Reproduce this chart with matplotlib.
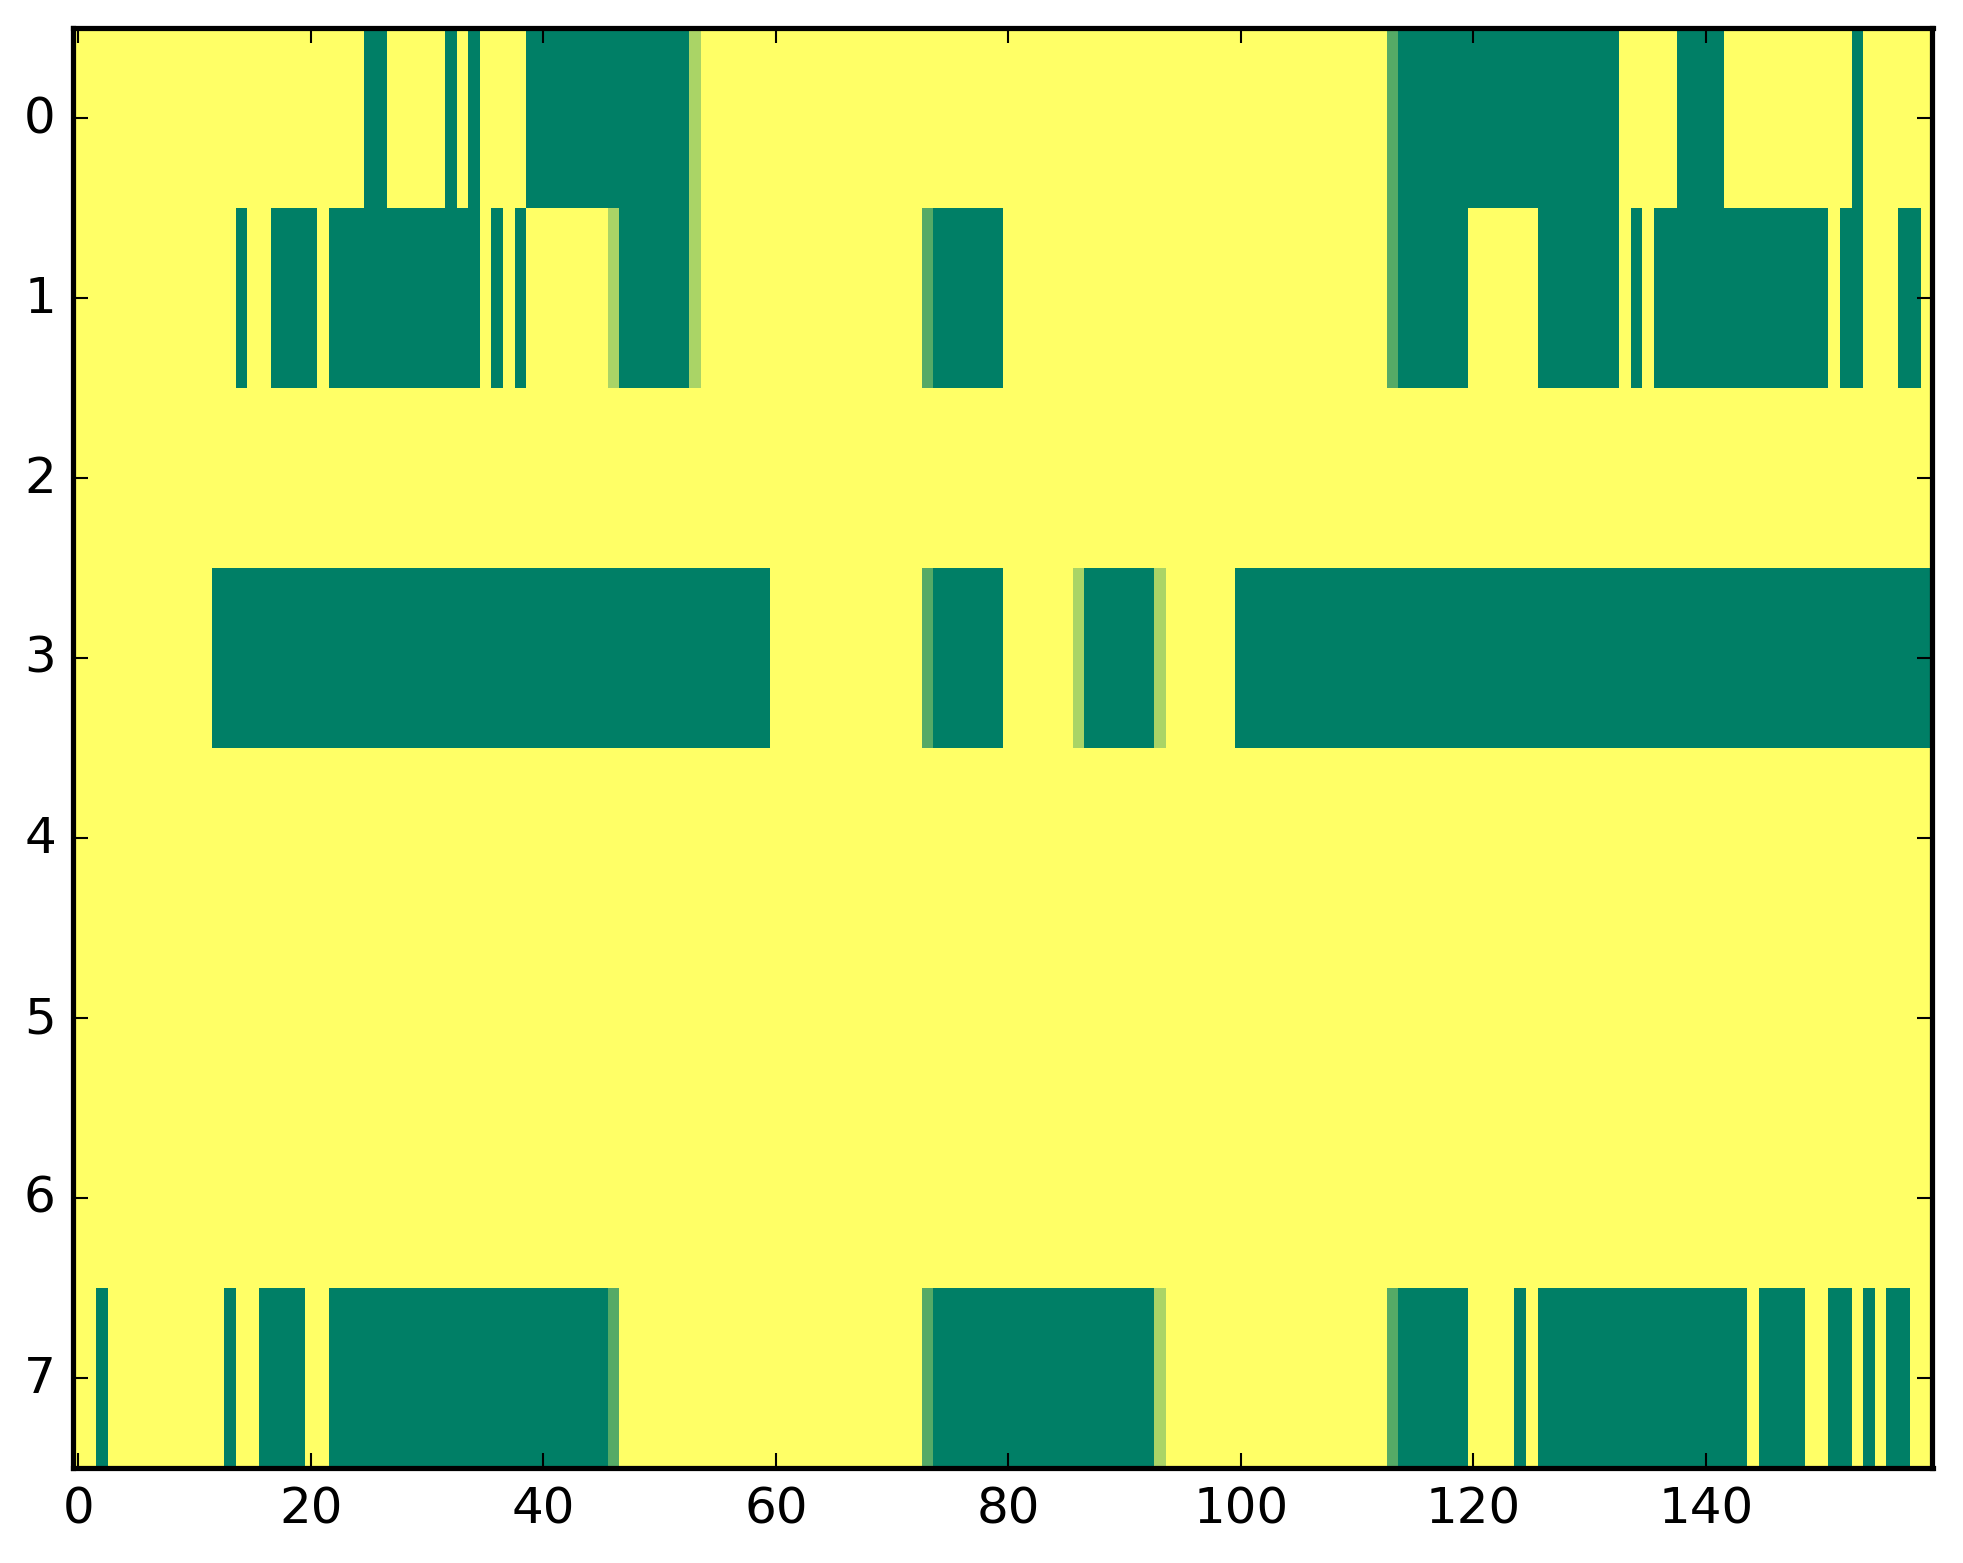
import numpy as np
import matplotlib
matplotlib.use("Agg")
import matplotlib.pyplot as plt

# cell values: 1 = yellow, 0 = dark green, thirds in between
# each row is written as (value, run length), 160 columns per row
Y, G, M, L = 1.0, 0.0, 1 / 3, 2 / 3

row0 = [(Y, 25), (G, 2), (Y, 5), (G, 1), (Y, 1), (G, 1), (Y, 4), (G, 14), (L, 1),
        (Y, 59), (M, 1), (G, 19), (Y, 5), (G, 4), (Y, 11), (G, 1), (Y, 6)]
row1 = [(Y, 14), (G, 1), (Y, 2), (G, 4), (Y, 1), (G, 13), (Y, 1), (G, 1), (Y, 1),
        (G, 1), (Y, 7), (L, 1), (G, 6), (L, 1), (Y, 19), (M, 1), (G, 6), (Y, 33),
        (M, 1), (G, 6), (Y, 6), (G, 7), (Y, 1), (G, 1), (Y, 1), (G, 15), (Y, 1),
        (G, 2), (Y, 3), (G, 2), (Y, 1)]
row2 = [(Y, 160)]
row3 = [(Y, 12), (G, 48), (Y, 13), (M, 1), (G, 6), (Y, 6), (L, 1), (G, 6), (L, 1),
        (Y, 6), (G, 60)]
row4 = [(Y, 160)]
row5 = [(Y, 160)]
row6 = [(Y, 160)]
row7 = [(Y, 2), (G, 1), (Y, 10), (G, 1), (Y, 2), (G, 4), (Y, 2), (G, 24), (M, 1),
        (Y, 26), (M, 1), (G, 19), (L, 1), (Y, 19), (M, 1), (G, 6), (Y, 4), (G, 1),
        (Y, 1), (G, 18), (Y, 1), (G, 4), (Y, 2), (G, 2), (Y, 1), (G, 1), (Y, 1),
        (G, 2), (Y, 2)]

rows = [row0, row1, row2, row3, row4, row5, row6, row7]


def expand(runs):
    return np.concatenate([np.full(n, v) for v, n in runs])


data = np.vstack([expand(r) for r in rows])

plt.style.use('classic')
plt.rcParams['font.family'] = ['DejaVu Sans']
plt.rcParams['font.size'] = 12

W, H = 1963, 1564
fig = plt.figure(figsize=(W / 300, H / 300), dpi=300, facecolor='white')
ax = fig.add_axes([72.5 / W, (H - 1469) / H, 1860 / W, 1440 / H])

ax.imshow(data, cmap='summer', vmin=0, vmax=1, interpolation='nearest',
          aspect='auto')
ax.set_xticks(np.arange(0, 160, 20))
ax.set_yticks(np.arange(0, 8))
ax.tick_params(direction='in', top=True, right=True, length=3.5, width=0.5,
               labelsize=12)
for s in ax.spines.values():
    s.set_linewidth(1.25)

fig.savefig('out.png', dpi=300, facecolor='white')
